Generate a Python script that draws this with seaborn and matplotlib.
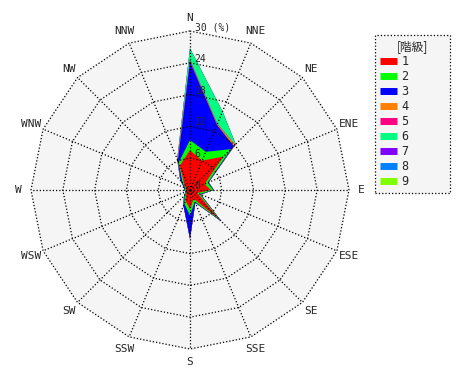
import numpy as np
import seaborn as sns
import matplotlib.pyplot as plt
from matplotlib.lines import Line2D

# 16 wind directions, clockwise from north
directions = ["N", "NNE", "NE", "ENE", "E", "ESE", "SE", "SSE",
              "S", "SSW", "SW", "WSW", "W", "WNW", "NW", "NNW"]
classes = ["1", "2", "3", "4", "5", "6", "7", "8", "9"]
class_colors = ["#ff0000", "#00ff00", "#0000ff", "#ff8000", "#ff0080",
                "#00ff80", "#8000ff", "#0080ff", "#80ff00"]

# frequency (%) of each class per direction
c1 = [7.5, 6.0, 8.9, 3.0, 3.9, 1.5, 7.6, 1.8, 3.6, 2.2, 1.0, 0.6, 0.8, 0.8, 1.5, 5.0]
c2 = [1.9, 1.8, 2.0, 0.6, 0.5, 0.5, 0.4, 0.6, 1.2, 0.6, 0.4, 0.2, 0.2, 0.2, 0.5, 0.6]
c3 = [14.8, 5.5, 0.8, 0.2, 0.1, 0.2, 0.3, 0.2, 4.4, 0.4, 0.2, 0.1, 0.1, 0.2, 0.5, 0.4]
c4 = [0.1, 0.1, 0.4, 0.0, 0.0, 0.0, 0.0, 0.0, 0.0, 0.0, 0.0, 0.0, 0.0, 0.0, 0.1, 0.2]
c5 = [0.3, 0.1, 0.0, 0.0, 0.0, 0.0, 0.0, 0.0, 0.0, 0.0, 0.0, 0.0, 0.0, 0.0, 0.0, 0.0]
c6 = [2.1, 2.5, 0.1, 0.0, 0.0, 0.0, 0.0, 0.0, 0.0, 0.0, 0.0, 0.0, 0.0, 0.0, 0.0, 0.1]
c7 = [0.0] * 16
c8 = [0.0] * 16
c9 = [0.1, 0.1, 0.0, 0.0, 0.0, 0.0, 0.0, 0.0, 0.0, 0.0, 0.0, 0.0, 0.0, 0.0, 0.0, 0.0]

ring_values = [0, 6, 12, 18, 24, 30]
ring_labels = ["0", "6", "12", "18", "24", "30 (%)"]

sns.set_style("white")
plt.rcParams['font.family'] = ['DejaVu Sans Mono', 'Noto Sans CJK JP']
palette = sns.color_palette(class_colors)

theta = np.deg2rad(np.arange(16) * 22.5)
rmax = ring_values[-1]
scale = 159 / rmax  # px per %

fig = plt.figure(figsize=(4.7, 3.8), dpi=100)
ax = fig.add_axes([0, 0, 1, 1])
ax.set_xlim(-190 / scale, 280 / scale)
ax.set_ylim(-190 / scale, 190 / scale)
ax.set_aspect('equal')
ax.axis('off')


def polygon(r):
    r = np.append(r, r[0])
    t = np.append(theta, theta[0])
    return r * np.sin(t), r * np.cos(t)


# plot background
bx, by = polygon(np.full(16, rmax))
ax.fill(bx, by, color="#f5f5f5", zorder=0)

# stacked layers, outermost drawn first
data = np.array([c1, c2, c3, c4, c5, c6, c7, c8, c9])
cum = np.cumsum(data, axis=0)
for i in range(len(classes) - 1, -1, -1):
    x, y = polygon(cum[i])
    ax.fill(x, y, color=palette[i], lw=0, zorder=1 + (9 - i) * 0.01)

# grid
dots = (0, (1, 1.6))
for rv in ring_values[1:]:
    x, y = polygon(np.full(16, rv))
    ax.plot(x, y, color="black", lw=0.9, ls=dots, zorder=3)
for t in theta:
    ax.plot([0, rmax * np.sin(t)], [0, rmax * np.cos(t)],
            color="black", lw=0.9, ls=dots, zorder=3)

# direction labels
for d, t in zip(directions, theta):
    ax.text(32.4 * np.sin(t), 32.4 * np.cos(t), d, fontsize=8,
            ha="center", va="center", zorder=4)

# ring labels
for rv, lab in zip(ring_values, ring_labels):
    ax.text(0.9, rv + 0.75, lab, fontsize=7, ha="left", va="center", zorder=4)

# legend
handles = [Line2D([], [], color=palette[i], lw=5, solid_capstyle="butt")
           for i in range(len(classes))]
leg = fig.legend(handles, classes, title="[階級]", loc="upper left",
                 bbox_to_anchor=(375 / 470, 1 - 35 / 380, 75 / 470, 0.0),
                 mode="expand", fontsize=8.5, title_fontsize=8.5,
                 handlelength=1.45, handletextpad=0.4, labelspacing=0.17,
                 borderpad=0.4, borderaxespad=0, fancybox=False,
                 frameon=True, facecolor="#f5f5f5", edgecolor="black",
                 framealpha=1)
leg.get_title().set_family(['Noto Sans CJK JP', 'DejaVu Sans'])
leg.get_frame().set_linestyle(":")
leg.get_frame().set_linewidth(0.9)

fig.savefig("out.png", dpi=100)
